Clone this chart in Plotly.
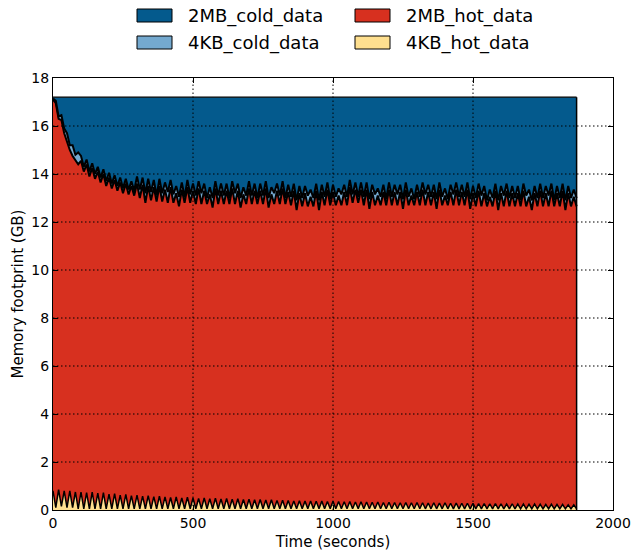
import plotly.graph_objects as go
import numpy as np

# ---------------- data ----------------
time_s = list(range(0, 1871, 10))

hot_4kb = [
    0.80, 0.10, 0.85, 0.15, 0.80, 0.10, 0.80, 0.10, 0.75, 0.05,
    0.75, 0.05, 0.72, 0.05, 0.74, 0.05, 0.70, 0.05, 0.72, 0.05,
    0.66, 0.05, 0.68, 0.05, 0.62, 0.05, 0.65, 0.05, 0.60, 0.05,
    0.62, 0.05, 0.58, 0.05, 0.60, 0.05, 0.56, 0.05, 0.58, 0.05,
    0.55, 0.05, 0.52, 0.05, 0.55, 0.05, 0.50, 0.05, 0.53, 0.05,
    0.50, 0.05, 0.48, 0.05, 0.50, 0.05, 0.47, 0.05, 0.49, 0.05,
    0.46, 0.05, 0.48, 0.05, 0.45, 0.05, 0.47, 0.05, 0.44, 0.05,
    0.45, 0.05, 0.43, 0.05, 0.44, 0.05, 0.42, 0.05, 0.43, 0.05,
    0.40, 0.05, 0.41, 0.05, 0.40, 0.05, 0.38, 0.05, 0.39, 0.05,
    0.37, 0.05, 0.38, 0.05, 0.36, 0.05, 0.37, 0.05, 0.35, 0.05,
    0.36, 0.05, 0.35, 0.05, 0.34, 0.05, 0.35, 0.05, 0.33, 0.05,
    0.34, 0.05, 0.33, 0.05, 0.32, 0.05, 0.33, 0.05, 0.31, 0.05,
    0.32, 0.05, 0.31, 0.05, 0.30, 0.05, 0.31, 0.05, 0.30, 0.05,
    0.31, 0.05, 0.30, 0.05, 0.29, 0.05, 0.30, 0.05, 0.29, 0.05,
    0.30, 0.05, 0.28, 0.05, 0.29, 0.05, 0.28, 0.05, 0.28, 0.05,
    0.28, 0.05, 0.27, 0.05, 0.27, 0.05, 0.26, 0.05, 0.27, 0.05,
    0.26, 0.05, 0.25, 0.05, 0.26, 0.05, 0.25, 0.05, 0.25, 0.05,
    0.24, 0.05, 0.25, 0.05, 0.24, 0.05, 0.23, 0.05, 0.24, 0.05,
    0.23, 0.05, 0.23, 0.05, 0.22, 0.05, 0.22, 0.05,
]

hot_2mb = [
    16.30, 16.85, 15.45, 16.10, 14.90, 15.20, 14.20, 14.65, 13.85, 14.35,
    13.80, 14.05, 13.68, 13.85, 13.51, 13.75, 13.40, 13.60, 13.28, 13.45,
    13.19, 13.35, 13.07, 13.25, 13.03, 13.15, 12.95, 13.10, 12.90, 13.05,
    12.98, 12.95, 12.97, 12.75, 12.90, 12.85, 12.89, 12.80, 12.92, 12.80,
    12.80, 12.75, 12.93, 12.75, 12.65, 12.60, 12.85, 12.75, 12.92, 12.75,
    12.80, 12.70, 12.92, 12.70, 12.80, 12.70, 12.68, 12.55, 12.91, 12.70,
    12.84, 12.70, 12.82, 12.70, 12.95, 12.70, 12.83, 12.55, 12.71, 12.70,
    12.95, 12.70, 12.87, 12.70, 12.86, 12.70, 12.98, 12.55, 12.72, 12.70,
    12.90, 12.70, 12.99, 12.70, 12.85, 12.65, 12.92, 12.45, 12.81, 12.60,
    12.83, 12.60, 12.67, 12.60, 12.94, 12.45, 12.88, 12.65, 13.00, 12.65,
    12.89, 12.65, 12.75, 12.65, 12.91, 12.65, 13.10, 12.75, 13.02, 12.75,
    13.01, 12.65, 13.02, 12.50, 12.93, 12.65, 12.77, 12.65, 12.94, 12.65,
    13.03, 12.65, 12.94, 12.65, 12.95, 12.50, 13.04, 12.65, 12.80, 12.65,
    12.94, 12.65, 13.05, 12.65, 12.96, 12.65, 12.95, 12.50, 13.06, 12.65,
    12.80, 12.65, 12.97, 12.65, 13.06, 12.65, 12.97, 12.65, 13.07, 12.50,
    12.92, 12.60, 13.03, 12.60, 12.93, 12.60, 12.79, 12.60, 13.03, 12.45,
    12.94, 12.60, 13.05, 12.60, 12.94, 12.60, 12.95, 12.60, 13.05, 12.60,
    12.81, 12.45, 12.95, 12.60, 13.06, 12.60, 12.97, 12.60, 13.06, 12.60,
    12.97, 12.60, 13.07, 12.45, 12.98, 12.60, 12.83, 12.60,
]

cold_4kb = [
    0.05, 0.10, 0.10, 0.20, 0.20, 0.40, 0.20, 0.45, 0.20, 0.50,
    0.20, 0.20, 0.20, 0.20, 0.20, 0.20, 0.20, 0.20, 0.20, 0.20,
    0.20, 0.20, 0.20, 0.20, 0.20, 0.20, 0.20, 0.20, 0.20, 0.20,
    0.30, 0.35, 0.30, 0.40, 0.30, 0.35, 0.30, 0.25, 0.30, 0.35,
    0.30, 0.45, 0.30, 0.35, 0.30, 0.40, 0.30, 0.25, 0.30, 0.35,
    0.30, 0.35, 0.30, 0.45, 0.30, 0.25, 0.30, 0.40, 0.30, 0.35,
    0.30, 0.35, 0.30, 0.25, 0.30, 0.45, 0.30, 0.40, 0.30, 0.35,
    0.30, 0.35, 0.30, 0.25, 0.30, 0.35, 0.30, 0.40, 0.30, 0.45,
    0.30, 0.35, 0.30, 0.25, 0.30, 0.35, 0.30, 0.40, 0.30, 0.35,
    0.30, 0.45, 0.30, 0.35, 0.30, 0.40, 0.30, 0.35, 0.30, 0.25,
    0.30, 0.35, 0.30, 0.45, 0.30, 0.35, 0.30, 0.35, 0.30, 0.25,
    0.30, 0.35, 0.30, 0.40, 0.30, 0.45, 0.30, 0.35, 0.30, 0.25,
    0.30, 0.35, 0.30, 0.45, 0.30, 0.40, 0.30, 0.35, 0.30, 0.25,
    0.30, 0.35, 0.30, 0.45, 0.30, 0.35, 0.30, 0.40, 0.30, 0.35,
    0.30, 0.25, 0.30, 0.45, 0.30, 0.35, 0.30, 0.35, 0.30, 0.40,
    0.30, 0.35, 0.30, 0.45, 0.30, 0.25, 0.30, 0.35, 0.30, 0.40,
    0.30, 0.45, 0.30, 0.35, 0.30, 0.35, 0.30, 0.25, 0.30, 0.45,
    0.30, 0.40, 0.30, 0.35, 0.30, 0.35, 0.30, 0.45, 0.30, 0.25,
    0.30, 0.35, 0.30, 0.40, 0.30, 0.35, 0.30, 0.35,
]

cold_2mb = [
    0.05, 0.15, 0.80, 0.75, 1.30, 1.50, 2.00, 2.00, 2.40, 2.30,
    2.45, 2.90, 2.60, 3.10, 2.75, 3.20, 2.90, 3.35, 3.00, 3.50,
    3.15, 3.60, 3.25, 3.70, 3.35, 3.80, 3.40, 3.85, 3.50, 3.90,
    3.30, 3.85, 3.35, 4.00, 3.40, 3.95, 3.45, 4.10, 3.40, 4.00,
    3.55, 3.95, 3.45, 4.05, 3.70, 4.15, 3.55, 4.15, 3.45, 4.05,
    3.60, 4.10, 3.50, 4.00, 3.60, 4.20, 3.75, 4.20, 3.50, 4.10,
    3.60, 4.10, 3.60, 4.20, 3.50, 4.00, 3.60, 4.20, 3.75, 4.10,
    3.50, 4.10, 3.60, 4.20, 3.60, 4.10, 3.50, 4.20, 3.75, 4.00,
    3.60, 4.10, 3.50, 4.20, 3.65, 4.15, 3.60, 4.30, 3.70, 4.20,
    3.70, 4.10, 3.85, 4.20, 3.60, 4.30, 3.65, 4.15, 3.55, 4.25,
    3.65, 4.15, 3.80, 4.05, 3.65, 4.15, 3.45, 4.05, 3.55, 4.15,
    3.55, 4.15, 3.55, 4.25, 3.65, 4.05, 3.80, 4.15, 3.65, 4.25,
    3.55, 4.15, 3.65, 4.05, 3.65, 4.25, 3.55, 4.15, 3.80, 4.25,
    3.65, 4.15, 3.55, 4.05, 3.65, 4.15, 3.65, 4.25, 3.55, 4.15,
    3.80, 4.25, 3.65, 4.05, 3.55, 4.15, 3.65, 4.15, 3.55, 4.25,
    3.70, 4.20, 3.60, 4.10, 3.70, 4.30, 3.85, 4.20, 3.60, 4.30,
    3.70, 4.10, 3.60, 4.20, 3.70, 4.20, 3.70, 4.30, 3.60, 4.10,
    3.85, 4.30, 3.70, 4.20, 3.60, 4.20, 3.70, 4.10, 3.60, 4.30,
    3.70, 4.20, 3.60, 4.30, 3.70, 4.20, 3.85, 4.20,
]

series_names = ["4KB_hot_data", "2MB_hot_data", "4KB_cold_data", "2MB_cold_data"]
series_values = [hot_4kb, hot_2mb, cold_4kb, cold_2mb]
series_colors = ["#fedf8f", "#d7301f", "#74a9cf", "#045a8d"]

x_ticks = [0, 500, 1000, 1500, 2000]
y_ticks = [0, 2, 4, 6, 8, 10, 12, 14, 16, 18]

# sanity check of the transcription: every series has one value per sample
for v in series_values:
    assert len(v) == len(time_s), (len(v), len(time_s))

# ---------------- layout geometry ----------------
W, H = 633, 554
ML, MR, MT, MB = 53, 20, 78, 44
PW, PH = W - ML - MR, H - MT - MB
FONT = "DejaVu Sans"


def px(xp):
    return (xp - ML) / PW


def py(yp):
    return (H - MB - yp) / PH


fig = go.Figure()

line_w = [1.5, 2.0, 2.0, 1.3]
for name, vals, color, lw in zip(series_names, series_values, series_colors, line_w):
    fig.add_trace(go.Scatter(
        x=time_s, y=vals, name=name, stackgroup="mem", mode="lines",
        line=dict(color="black", width=lw), fillcolor=color,
        showlegend=False, hoverinfo="x+y+name",
    ))

# closing vertical edge of the stacked polygons at the last sample
total_last = float(np.sum([v[-1] for v in series_values]))
fig.add_trace(go.Scatter(
    x=[time_s[-1], time_s[-1]], y=[0, total_last], mode="lines",
    line=dict(color="black", width=1.5), showlegend=False, hoverinfo="skip",
))

# dotted grid drawn above the filled areas (as matplotlib does)
grid_style = dict(color="black", width=1, dash="1.5px,2.5px")
for xv in x_ticks[1:-1]:
    fig.add_shape(type="line", xref="x", yref="paper", x0=xv, x1=xv, y0=0, y1=1,
                  line=grid_style, layer="above")
for yv in y_ticks[1:-1]:
    fig.add_shape(type="line", xref="paper", yref="y", x0=0, x1=1, y0=yv, y1=yv,
                  line=grid_style, layer="above")

# manual legend (2 columns x 2 rows) above the plot
legend_items = [
    ("2MB_cold_data", "#045a8d", 0, 0),
    ("2MB_hot_data", "#d7301f", 1, 0),
    ("4KB_cold_data", "#74a9cf", 0, 1),
    ("4KB_hot_data", "#fedf8f", 1, 1),
]
col_sw = [(137, 172), (355, 390)]
col_tx = [186, 404]
row_y = [(9, 22), (36, 49)]
for label, color, c, r in legend_items:
    x0, x1 = col_sw[c]
    y0, y1 = row_y[r]
    fig.add_shape(type="rect", xref="paper", yref="paper",
                  x0=px(x0), x1=px(x1), y0=py(y1), y1=py(y0),
                  fillcolor=color, line=dict(color="black", width=1), layer="above")
    fig.add_annotation(xref="paper", yref="paper", x=px(col_tx[c]), y=py((y0 + y1) / 2),
                       text=label, showarrow=False, xanchor="left", yanchor="middle",
                       font=dict(family=FONT, size=18, color="black"))

axis_common = dict(
    showline=True, linecolor="black", linewidth=1, mirror="ticks",
    ticks="inside", ticklen=5, tickwidth=1, tickcolor="black",
    showgrid=False, zeroline=False,
    tickfont=dict(family=FONT, size=14, color="black"),
)

fig.update_layout(
    width=W, height=H,
    margin=dict(l=ML, r=MR, t=MT, b=MB, autoexpand=False),
    paper_bgcolor="white", plot_bgcolor="white",
    showlegend=False,
    font=dict(family=FONT, color="black"),
    xaxis=dict(range=[0, 2000], tickvals=x_ticks, ticktext=[str(v) for v in x_ticks],
               title=dict(text="Time (seconds)", font=dict(family=FONT, size=15), standoff=6),
               **axis_common),
    yaxis=dict(range=[0, 18], tickvals=y_ticks, ticktext=[str(v) for v in y_ticks],
               title=dict(text="Memory footprint (GB)", font=dict(family=FONT, size=15), standoff=4),
               **axis_common),
)

fig.write_html("out.html")
